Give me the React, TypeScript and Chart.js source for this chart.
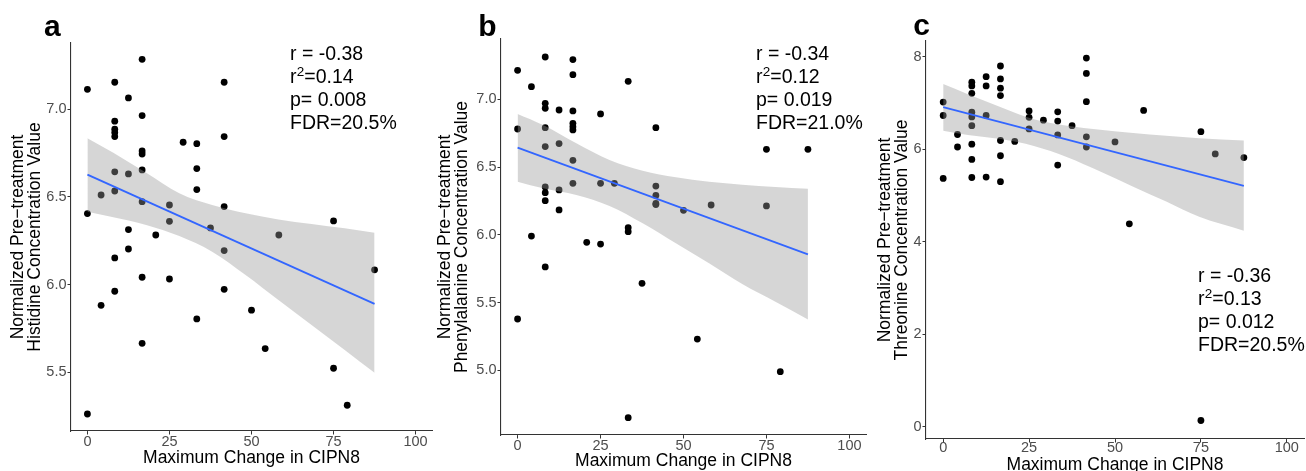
import React, { useEffect, useRef } from "react";
import { Chart, registerables } from "chart.js";

Chart.register(...registerables);

const FONT = "'Liberation Sans', Arial, Helvetica, sans-serif";

// ---------- shared ----------
const xTickValues = [0, 25, 50, 75, 100];
const xAxisTitle = "Maximum Change in CIPN8";

// ---------- panel a : Histidine ----------
const hisX = [0, 0, 0, 4.17, 4.17, 8.33, 8.33, 8.33, 8.33, 8.33, 8.33, 8.33, 8.33, 8.33, 12.5, 12.5, 12.5, 12.5,
  16.67, 16.67, 16.67, 16.67, 16.67, 16.67, 16.67, 16.67, 20.83, 25, 25, 25, 29.17, 33.33, 33.33, 33.33, 33.33,
  37.5, 41.67, 41.67, 41.67, 41.67, 41.67, 50, 54.17, 58.33, 75, 75, 79.17, 87.5];
const hisY = [7.114, 6.405, 5.262, 6.511, 5.882, 7.154, 6.932, 6.886, 6.867, 6.844, 6.643, 6.534, 6.152, 5.962,
  7.065, 6.631, 6.314, 6.203, 7.285, 6.964, 6.762, 6.745, 6.654, 6.473, 6.042, 5.665, 6.283, 6.454, 6.361, 6.032,
  6.812, 6.804, 6.662, 6.542, 5.804, 6.323, 7.154, 6.844, 6.445, 6.194, 5.973, 5.854, 5.635, 6.283, 6.363, 5.523,
  5.312, 6.084];
const hisFitX = [0, 87.5];
const hisFitY = [6.627, 5.89];
const hisBandX = [0, 7.9, 17.9, 28, 38, 48.2, 58.2, 68.3, 78.4, 87.5];
const hisBandUpper = [6.835, 6.752, 6.638, 6.521, 6.454, 6.407, 6.372, 6.346, 6.321, 6.296];
const hisBandLower = [6.416, 6.384, 6.34, 6.277, 6.188, 6.055, 5.912, 5.77, 5.627, 5.497];
const hisYTicks = [5.5, 6.0, 6.5, 7.0];
const hisTitle = ["Normalized Pre\u2212treatment", "Histidine Concentration Value"];
const hisStats = ["r = -0.38", "r\u00b2=0.14", "p= 0.008", "FDR=20.5%"];

// ---------- panel b : Phenylalanine ----------
const pheX = [0, 0, 0, 4.17, 4.17, 8.33, 8.33, 8.33, 8.33, 8.33, 8.33, 8.33, 8.33, 8.33, 12.5, 12.5, 12.5, 12.5,
  16.67, 16.67, 16.67, 16.67, 16.67, 16.67, 16.67, 16.67, 20.83, 25, 25, 25, 29.17, 33.33, 33.33, 33.33, 33.33,
  37.5, 41.67, 41.67, 41.67, 41.67, 41.67, 50, 54.17, 58.33, 75, 75, 79.17, 87.5];
const pheY = [7.214, 6.781, 5.379, 7.093, 5.991, 7.312, 6.97, 6.934, 6.791, 6.651, 6.353, 6.311, 6.252, 5.763,
  6.921, 6.673, 6.331, 6.184, 7.293, 7.182, 6.914, 6.823, 6.798, 6.774, 6.55, 6.38, 5.945, 6.892, 6.38, 5.932,
  6.38, 7.133, 6.053, 6.023, 4.651, 5.642, 6.791, 6.36, 6.291, 6.232, 6.223, 6.181, 5.231, 6.22, 6.631, 6.213,
  4.99, 6.631];
const pheFitX = [0, 87.5];
const pheFitY = [6.643, 5.856];
const pheBandX = [0, 7.7, 17.7, 27.7, 37.7, 47.7, 57.7, 67.7, 77.7, 87.5];
const pheBandUpper = [6.892, 6.81, 6.675, 6.552, 6.473, 6.424, 6.392, 6.37, 6.353, 6.34];
const pheBandLower = [6.392, 6.343, 6.294, 6.213, 6.085, 5.937, 5.79, 5.637, 5.506, 5.376];
const pheYTicks = [5.0, 5.5, 6.0, 6.5, 7.0];
const pheTitle = ["Normalized Pre\u2212treatment", "Phenylalanine Concentration Value"];
const pheStats = ["r = -0.34", "r\u00b2=0.12", "p= 0.019", "FDR=21.0%"];

// ---------- panel c : Threonine ----------
const thrX = [0, 0, 0, 4.17, 4.17, 8.33, 8.33, 8.33, 8.33, 8.33, 8.33, 8.33, 8.33, 8.33, 12.5, 12.5, 12.5, 12.5,
  16.67, 16.67, 16.67, 16.67, 16.67, 16.67, 16.67, 20.83, 25, 25, 25, 29.17, 33.33, 33.33, 33.33, 33.33, 37.5,
  41.67, 41.67, 41.67, 41.67, 41.67, 50, 54.17, 58.33, 75, 75, 79.17, 87.5];
const thrY = [7.02, 6.73, 5.37, 6.32, 6.05, 7.45, 7.37, 7.21, 6.8, 6.7, 6.51, 6.11, 5.78, 5.39, 7.57, 7.37, 6.73,
  5.4, 7.8, 7.52, 7.32, 7.16, 6.19, 5.86, 5.3, 6.17, 6.83, 6.69, 6.44, 6.63, 6.81, 6.61, 6.31, 5.66, 6.51, 7.97,
  7.64, 7.03, 6.27, 6.05, 6.16, 4.39, 6.84, 6.38, 0.14, 5.9, 5.82];
const thrFitX = [0, 87.5];
const thrFitY = [6.91, 5.21];
const thrBandX = [0, 7.2, 16.8, 26.4, 36.1, 45.7, 55.3, 64.9, 74.5, 87.5];
const thrBandUpper = [7.41, 7.19, 6.91, 6.65, 6.51, 6.42, 6.35, 6.29, 6.24, 6.19];
const thrBandLower = [6.4, 6.31, 6.22, 6.07, 5.83, 5.52, 5.19, 4.87, 4.54, 4.24];
const thrYTicks = [0, 2, 4, 6, 8];
const thrTitle = ["Normalized Pre\u2212treatment", "Threonine Concentration Value"];
const thrStats = ["r = -0.36", "r\u00b2=0.13", "p= 0.012", "FDR=20.5%"];

const pairs = (xs: number[], ys: number[]) => xs.map((x, i) => ({ x, y: ys[i] }));

type Panel = {
  letter: string;
  x: number[]; y: number[];
  fitX: number[]; fitY: number[];
  bandX: number[]; bandU: number[]; bandL: number[];
  yTicks: number[]; yDec: number;
  yMin: number; yMax: number;
  title: string[]; stats: string[];
  // layout
  left: number; W: number; H: number;
  padTop: number; padRight: number; yW: number; xH: number;
  yTitlePad: number; xTitlePad: number; xTickPad: number;
  statX: number; statY: number[];
  letterX: number; letterY: number;
};

const panels: Panel[] = [
  {
    letter: "a", x: hisX, y: hisY, fitX: hisFitX, fitY: hisFitY, bandX: hisBandX, bandU: hisBandUpper,
    bandL: hisBandLower, yTicks: hisYTicks, yDec: 1, yMin: 5.165, yMax: 7.378, title: hisTitle, stats: hisStats,
    left: 0, W: 440, H: 471, padTop: 43, padRight: 8, yW: 71, xH: 40, yTitlePad: 9.25, xTitlePad: 4.25,
    xTickPad: 0, statX: 290, statY: [60, 83, 106, 128.5], letterX: 44, letterY: 36,
  },
  {
    letter: "b", x: pheX, y: pheY, fitX: pheFitX, fitY: pheFitY, bandX: pheBandX, bandU: pheBandUpper,
    bandL: pheBandLower, yTicks: pheYTicks, yDec: 1, yMin: 4.523, yMax: 7.445, title: pheTitle, stats: pheStats,
    left: 430, W: 440, H: 471, padTop: 39, padRight: 2, yW: 71, xH: 36, yTitlePad: 6.25, xTitlePad: 1,
    xTickPad: 0, statX: 326, statY: [60, 83, 106, 128.5], letterX: 48.3, letterY: 35.5,
  },
  {
    letter: "c", x: thrX, y: thrY, fitX: thrFitX, fitY: thrFitY, bandX: thrBandX, bandU: thrBandUpper,
    bandL: thrBandLower, yTicks: thrYTicks, yDec: 0, yMin: -0.26, yMax: 8.34, title: thrTitle, stats: thrStats,
    left: 860, W: 448, H: 480, padTop: 41, padRight: 0.7, yW: 66, xH: 41, yTitlePad: 16.25, xTitlePad: 6.25,
    xTickPad: -2, statX: 338, statY: [281.7, 305, 328.3, 350.5], letterX: 53.3, letterY: 35,
  },
];

function makeConfig(p: Panel): any {
  const textPlugin = {
    id: "panelText",
    afterDraw(chart: any) {
      const ctx = chart.ctx;
      ctx.save();
      ctx.fillStyle = "#000";
      ctx.textBaseline = "alphabetic";
      ctx.textAlign = "left";
      const size = 19.5;
      p.stats.forEach((line, i) => {
        const y = p.statY[i];
        const parts = line.split("\u00b2");
        ctx.font = `${size}px ${FONT}`;
        if (parts.length === 2) {
          let x = p.statX;
          ctx.fillText(parts[0], x, y);
          x += ctx.measureText(parts[0]).width;
          ctx.font = `${13.5}px ${FONT}`;
          ctx.fillText("2", x + 0.3, y - 7.5);
          x += ctx.measureText("2").width + 0.3;
          ctx.font = `${size}px ${FONT}`;
          ctx.fillText(parts[1], x, y);
        } else {
          ctx.fillText(line, p.statX, y);
        }
      });
      ctx.font = `bold 30px ${FONT}`;
      ctx.fillText(p.letter, p.letterX, p.letterY);
      ctx.restore();
    },
  };

  return {
    type: "scatter",
    data: {
      datasets: [
        {
          type: "scatter",
          data: pairs(p.x, p.y),
          pointRadius: 3.4,
          pointBackgroundColor: "#000",
          pointBorderWidth: 0,
          order: 3,
        },
        {
          type: "line",
          data: pairs(p.bandX, p.bandL),
          borderWidth: 0,
          borderColor: "rgba(0,0,0,0)",
          pointRadius: 0,
          fill: false,
          cubicInterpolationMode: "monotone",
          order: 2,
        },
        {
          type: "line",
          data: pairs(p.bandX, p.bandU),
          borderWidth: 0,
          borderColor: "rgba(0,0,0,0)",
          pointRadius: 0,
          fill: 1,
          backgroundColor: "rgba(153,153,153,0.4)",
          cubicInterpolationMode: "monotone",
          order: 2,
        },
        {
          type: "line",
          data: pairs(p.fitX, p.fitY),
          borderColor: "#3366FF",
          borderWidth: 1.8,
          pointRadius: 0,
          fill: false,
          order: 1,
        },
      ],
    },
    options: {
      responsive: false,
      animation: false,
      devicePixelRatio: 1,
      layout: { padding: { top: p.padTop, right: p.padRight, left: 0, bottom: 0 } },
      plugins: { legend: { display: false }, tooltip: { enabled: false } },
      scales: {
        x: {
          type: "linear",
          min: -5,
          max: 105,
          afterBuildTicks: (s: any) => {
            s.ticks = xTickValues.map((v) => ({ value: v }));
          },
          afterFit: (s: any) => {
            s.height = p.xH;
          },
          grid: { display: true, drawOnChartArea: false, drawTicks: true, tickLength: 3.5, color: "#333", lineWidth: 1 },
          border: { display: true, color: "#333", width: 1.1 },
          ticks: {
            color: "#4d4d4d",
            font: { family: FONT, size: 14.5, lineHeight: 1 },
            padding: p.xTickPad,
            maxRotation: 0,
            autoSkip: false,
            callback: (v: any) => String(v),
          },
          title: {
            display: true,
            text: xAxisTitle,
            color: "#000",
            font: { family: FONT, size: 17.5, lineHeight: 1 },
            padding: { top: 0, bottom: p.xTitlePad },
          },
        },
        y: {
          type: "linear",
          min: p.yMin,
          max: p.yMax,
          afterBuildTicks: (s: any) => {
            s.ticks = p.yTicks.map((v) => ({ value: v }));
          },
          afterFit: (s: any) => {
            s.width = p.yW;
          },
          grid: { display: true, drawOnChartArea: false, drawTicks: true, tickLength: 3.5, color: "#333", lineWidth: 1 },
          border: { display: true, color: "#333", width: 1.1 },
          ticks: {
            color: "#4d4d4d",
            font: { family: FONT, size: 14.5, lineHeight: 1 },
            padding: 1,
            autoSkip: false,
            callback: (v: any) => Number(v).toFixed(p.yDec),
          },
          title: {
            display: true,
            text: p.title,
            color: "#000",
            font: { family: FONT, size: 17.5, lineHeight: 1 },
            padding: { top: p.yTitlePad, bottom: 0 },
          },
        },
      },
    },
    plugins: [textPlugin],
  };
}

function PanelChart({ p }: { p: Panel }) {
  const ref = useRef<HTMLCanvasElement | null>(null);
  useEffect(() => {
    if (!ref.current) return;
    const chart = new Chart(ref.current, makeConfig(p));
    return () => chart.destroy();
  }, [p]);
  return (
    <canvas
      ref={ref}
      width={p.W}
      height={p.H}
      style={{ position: "absolute", left: p.left, top: 0, width: p.W, height: p.H }}
    />
  );
}

export default function App() {
  return (
    <div
      style={{
        position: "fixed",
        left: 0,
        top: 0,
        width: 1306,
        height: 471,
        overflow: "hidden",
        background: "#fff",
      }}
    >
      {panels.map((p) => (
        <PanelChart key={p.letter} p={p} />
      ))}
    </div>
  );
}
